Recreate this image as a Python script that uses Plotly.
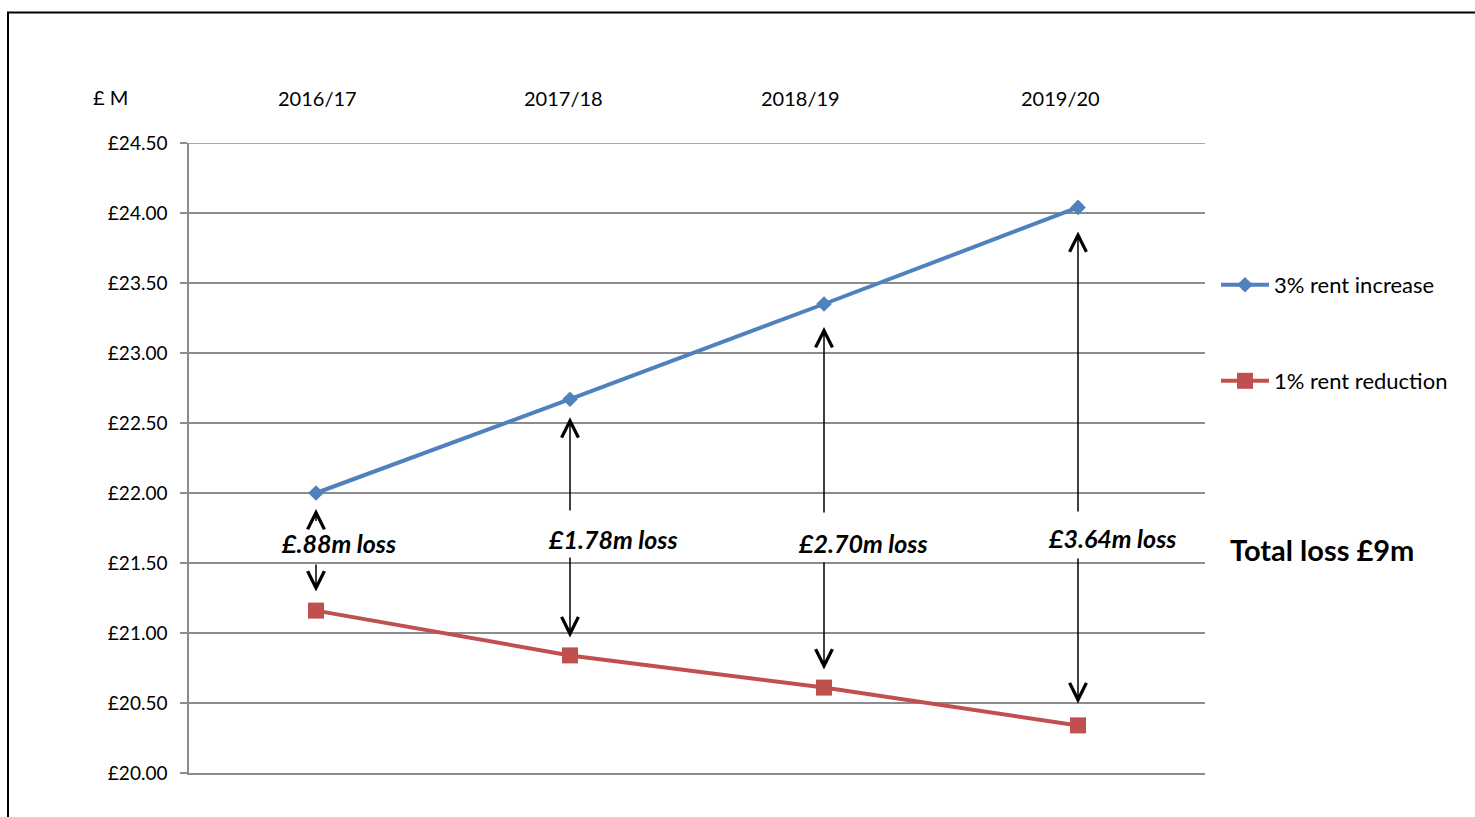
import plotly.graph_objects as go

years = ["2016/17", "2017/18", "2018/19", "2019/20"]
increase_3pct = [22.00, 22.67, 23.35, 24.04]
reduction_1pct = [21.16, 20.84, 20.61, 20.34]
loss_labels = ["£.88m loss", "£1.78m loss", "£2.70m loss", "£3.64m loss"]
total_label = "Total loss £9m"
y_min, y_max, y_step = 20.0, 24.5, 0.5

# annotation layout helpers (positions of text/arrows, not data)
label_y = [21.643, 21.67, 21.643, 21.68]
label_xshift = [22, 43, 39, 34]
up_tail_y = [21.79, 21.864, 21.85, 21.857]
down_tail_y = [21.50, 21.55, 21.514, 21.543]
up_standoff = [16, 18, 23, 24]
down_standoff = [19, 18, 18, 22]
year_label_px = [317, 563, 800, 1060]

FONT = "Lato"
GRID = "#8c8c8c"
W, H = 1475, 817
L, R, T, B = 189, 270, 143, 44
pw, ph = W - L - R, H - T - B


def px_x(v):
    return (v - L) / pw


def px_y(v):
    return (H - B - v) / ph


fig = go.Figure()
fig.add_trace(go.Scatter(
    x=years, y=increase_3pct, name="3% rent increase", mode="lines+markers",
    line=dict(color="#4F81BD", width=4),
    marker=dict(symbol="diamond", size=12, color="#4F81BD"),
    legend="legend",
))
fig.add_trace(go.Scatter(
    x=years, y=reduction_1pct, name="1% rent reduction", mode="lines+markers",
    line=dict(color="#C0504D", width=4),
    marker=dict(symbol="square", size=16, color="#C0504D"),
    legend="legend2",
))

arrow_style = dict(text="", showarrow=True, arrowhead=5, arrowsize=2.2, arrowwidth=1.5,
                   arrowcolor="black", xref="x", yref="y", axref="x", ayref="y")

ann = []
for i, yr in enumerate(years):
    ann.append(dict(x=yr, y=label_y[i], xref="x", yref="y", text=f"<b><i>{loss_labels[i]}</i></b>",
                    showarrow=False, xshift=label_xshift[i], xanchor="center", yanchor="middle",
                    font=dict(family=FONT, size=25, color="black")))
    ann.append(dict(x=yr, y=increase_3pct[i], ax=yr, ay=up_tail_y[i],
                    standoff=up_standoff[i], **arrow_style))
    ann.append(dict(x=yr, y=reduction_1pct[i], ax=yr, ay=down_tail_y[i],
                    standoff=down_standoff[i], **arrow_style))
    ann.append(dict(x=px_x(year_label_px[i]), y=px_y(98), xref="paper", yref="paper", text=yr,
                    xanchor="center", yanchor="middle",
                    showarrow=False, font=dict(family=FONT, size=20, color="black")))

ann.append(dict(x=px_x(110), y=px_y(97), xref="paper", yref="paper", text="£ M",
                xanchor="center", yanchor="middle",
                showarrow=False, font=dict(family=FONT, size=20, color="black")))
ann.append(dict(x=px_x(1228), y=px_y(549), xref="paper", yref="paper", xanchor="left", yanchor="middle",
                text=f"<b>{total_label}</b>", showarrow=False,
                font=dict(family=FONT, size=29, color="black")))

legend_common = dict(xanchor="left", yanchor="middle", itemwidth=48,
                     font=dict(family=FONT, size=22, color="black"), bgcolor="rgba(0,0,0,0)")

fig.update_layout(
    width=W, height=H,
    margin=dict(l=L, r=R, t=T, b=B),
    paper_bgcolor="white", plot_bgcolor="white",
    font=dict(family=FONT, color="black"),
    annotations=ann,
    showlegend=True,
    legend=dict(x=px_x(1216), y=px_y(285), **legend_common),
    legend2=dict(x=px_x(1216), y=px_y(381), **legend_common),
    xaxis=dict(type="category", range=[-0.5, 3.5], showticklabels=False, showgrid=False,
               showline=True, linecolor=GRID, linewidth=1.5, ticks="", zeroline=False),
    yaxis=dict(range=[y_min, y_max], dtick=y_step, tick0=y_min, tickprefix="£", tickformat=".2f",
               showgrid=True, gridcolor=GRID, gridwidth=1.5,
               showline=True, linecolor=GRID, linewidth=1.5,
               ticks="outside", ticklen=7, tickcolor=GRID, tickwidth=1.5,
               ticklabelstandoff=9,
               tickfont=dict(family=FONT, size=19, color="black"), zeroline=False),
    shapes=[
        dict(type="rect", xref="paper", yref="paper",
             x0=px_x(8), x1=px_x(W + 10), y0=px_y(H + 10), y1=px_y(12.5),
             line=dict(color="black", width=2), fillcolor="rgba(0,0,0,0)", layer="below"),
        # top gridline at the axis maximum (plotly omits the edge gridline)
        dict(type="line", xref="paper", yref="y", x0=0, x1=1, y0=y_max, y1=y_max,
             line=dict(color=GRID, width=1.5), layer="below"),
    ],
)

fig.write_html("out.html")
